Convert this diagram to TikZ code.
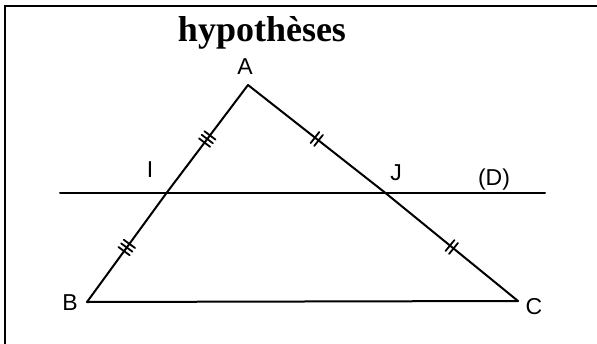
\documentclass[tikz,border=0pt]{standalone}
\usepackage{fontspec}
\setmainfont{Liberation Serif}
\setsansfont{Liberation Sans}
\usetikzlibrary{decorations.markings}
\tikzset{
  geo/.style={line width=2pt, line cap=round, line join=miter},
  lbl/.style={font=\sffamily\fontsize{23}{23}\selectfont, inner sep=0pt},
  tick/.style={line width=1.8pt},
  tripletick/.style={postaction={decorate, decoration={markings, mark=at position 0.5 with {
     \draw[tick] (-4.5pt,-7pt) -- (-4.5pt,7pt);
     \draw[tick] (0pt,-7pt) -- (0pt,7pt);
     \draw[tick] (4.5pt,-7pt) -- (4.5pt,7pt);}}}},
  doubletick/.style={postaction={decorate, decoration={markings, mark=at position 0.5 with {
     \draw[tick] (-2.3pt,-7pt) -- (-2.3pt,7pt);
     \draw[tick] (2.3pt,-7pt) -- (2.3pt,7pt);}}}}
}
\begin{document}
\begin{tikzpicture}[x=1pt,y=-1pt]
\useasboundingbox (0,0) rectangle (597,343);
% frame (clipped at right and bottom)
\draw[line width=2.4pt] (5,360) -- (5,6) -- (610,6);
% title
\node[font=\bfseries\fontsize{36}{36}\selectfont, inner sep=0pt, anchor=base] (title) at (262,41) {hypothèses};
% points
\coordinate (A) at (248,85);
\coordinate (B) at (87,302);
\coordinate (C) at (518,301);
\coordinate (I) at (166.5,193);
\coordinate (J) at (385.5,193);
\coordinate (D1) at (60,193);
\coordinate (D2) at (545,193);
% line D
\draw[geo] (D1) -- (D2);
% triangle
\draw[geo] (B) -- (C);
\draw[geo, tripletick] (A) -- (I);
\draw[geo, tripletick] (I) -- (B);
\draw[geo, doubletick] (A) -- (J);
\draw[geo, doubletick] (J) -- (C);
% labels
\node[lbl] (lA) at (245,67) {A};
\node[lbl] (lB) at (70,303) {B};
\node[lbl] (lC) at (534,307) {C};
\node[lbl] (lI) at (150,170) {I};
\node[lbl] (lJ) at (396,173) {J};
\node[lbl] (lD) at (494,180) {(D)};
\end{tikzpicture}
\end{document}
